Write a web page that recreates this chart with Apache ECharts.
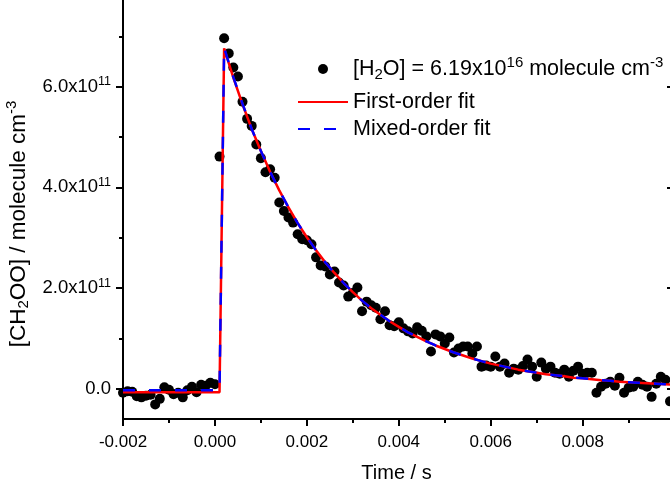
<!DOCTYPE html>
<html>
<head>
<meta charset="utf-8">
<script src="https://cdn.jsdelivr.net/npm/echarts@6/dist/echarts.min.js"></script>
<style>html,body{margin:0;padding:0;background:#fff}#c{width:670px;height:484px}</style>
</head>
<body>
<div id="c"></div>
<script>
// ---- data (concentration in units of 1e11 molecule cm^-3, time in s) ----
const dataTimes = [
 -0.0020,-0.0019,-0.0018,-0.0017,-0.0016,-0.0015,-0.0014,-0.0013,-0.0012,-0.0011,
 -0.0010,-0.0009,-0.0008,-0.0007,-0.0006,-0.0005,-0.0004,-0.0003,-0.0002,-0.0001,0.0000,
 0.0001,0.0002,0.0003,0.0004,0.0005,0.0006,0.0007,0.0008,0.0009,0.0010,
 0.0011,0.0012,0.0013,0.0014,0.0015,0.0016,0.0017,0.0018,0.0019,0.0020,
 0.0021,0.0022,0.0023,0.0024,0.0025,0.0026,0.0027,0.0028,0.0029,0.0030,
 0.0031,0.0032,0.0033,0.0034,0.0035,0.0036,0.0037,0.0038,0.0039,0.0040,
 0.0041,0.0042,0.0043,0.0044,0.0045,0.0046,0.0047,0.0048,0.0049,0.0050,
 0.0051,0.0052,0.0053,0.0054,0.0055,0.0056,0.0057,0.0058,0.0059,0.0060,
 0.0061,0.0062,0.0063,0.0064,0.0065,0.0066,0.0067,0.0068,0.0069,0.0070,
 0.0071,0.0072,0.0073,0.0074,0.0075,0.0076,0.0077,0.0078,0.0079,0.0080,
 0.0081,0.0082,0.0083,0.0084,0.0085,0.0086,0.0087,0.0088,0.0089,0.0090,
 0.0091,0.0092,0.0093,0.0094,0.0095,0.0096,0.0097,0.0098,0.0099
];
const dataValues = [
 -0.08,-0.05,-0.06,-0.15,-0.17,-0.14,-0.12,-0.31,-0.20,0.03,
 -0.02,-0.11,-0.08,-0.17,-0.03,0.04,-0.07,0.08,0.06,0.12,0.09,
 4.61,6.96,6.66,6.38,6.20,5.70,5.36,5.22,4.85,4.58,
 4.30,4.36,4.19,3.70,3.53,3.40,3.30,3.07,2.97,2.95,
 2.87,2.61,2.45,2.43,2.27,2.33,2.11,2.05,1.83,1.90,
 2.01,1.54,1.73,1.66,1.61,1.38,1.54,1.26,1.24,1.32,
 1.20,1.14,1.10,1.22,1.15,1.04,0.74,1.08,1.04,0.90,
 1.02,0.72,0.80,0.84,0.84,0.70,0.84,0.44,0.46,0.44,
 0.64,0.44,0.50,0.32,0.40,0.38,0.45,0.58,0.44,0.24,
 0.52,0.40,0.44,0.32,0.30,0.38,0.24,0.36,0.44,0.30,
 0.32,0.32,-0.08,0.04,0.10,0.14,0.06,0.22,-0.08,0.02,
 0.04,0.14,0.08,0.04,-0.16,0.10,0.24,0.18,-0.25
];
const fitTimes = [
 -0.0020,0.0001,0.0002,0.0004,0.0006,0.0008,0.0010,0.0012,0.0014,0.0016,0.0018,0.0020,
 0.0022,0.0024,0.0026,0.0028,0.0030,0.0032,0.0034,0.0036,0.0038,0.0040,
 0.0042,0.0044,0.0046,0.0048,0.0050,0.0052,0.0054,0.0056,0.0058,0.0060,
 0.0062,0.0064,0.0066,0.0068,0.0070,0.0072,0.0074,0.0076,0.0078,0.0080,
 0.0082,0.0084,0.0086,0.0088,0.0090,0.0092,0.0094,0.0096,0.0098,0.0100
];
const firstOrderFit = [
 -0.07,-0.07,6.76,6.18,5.65,5.16,4.72,4.31,3.94,3.60,3.29,3.01,
 2.75,2.51,2.30,2.10,1.92,1.75,1.60,1.47,1.34,1.23,
 1.12,1.03,0.94,0.86,0.79,0.72,0.66,0.60,0.55,0.50,
 0.46,0.42,0.38,0.35,0.32,0.29,0.27,0.25,0.22,0.21,
 0.19,0.17,0.16,0.14,0.13,0.12,0.11,0.10,0.09,0.085
];
const mixedOrderFit = [
 -0.03,-0.03,6.77,6.19,5.66,5.16,4.72,4.31,3.94,3.60,3.29,3.01,
 2.75,2.51,2.30,2.10,1.92,1.75,1.60,1.47,1.34,1.23,
 1.12,1.03,0.94,0.86,0.79,0.72,0.66,0.60,0.55,0.50,
 0.46,0.42,0.38,0.35,0.32,0.29,0.27,0.25,0.22,0.21,
 0.19,0.17,0.16,0.14,0.13,0.12,0.11,0.10,0.09,0.085
];
const xMajorTicks = [-0.002,0.000,0.002,0.004,0.006,0.008];
const xMinorTicks = [-0.001,0.001,0.003,0.005,0.007,0.009];
const yMajorTicks = [0,2,4,6];
const yMinorTicks = [1,3,5,7];

const FONT = 'Liberation Sans, Arial, sans-serif';
const zip = (a,b) => a.map((t,i)=>[t,b[i]]);

const chart = echarts.init(document.getElementById('c'), null, {renderer:'canvas'});
const mkSub = fs => ({fontSize: Math.round(fs*0.68), fontFamily: FONT, color:'#000', padding:[Math.round(fs*0.5),0,0,0]});
const mkSup = fs => ({fontSize: Math.round(fs*0.68), fontFamily: FONT, color:'#000', padding:[0,0,Math.round(fs*0.62),0]});
const baseAxis = {type:'value', min:-0.002, max:0.0099, splitLine:{show:false}};
const yBase = {type:'value', min:-0.6, max:7.72, splitLine:{show:false}};
const LEG = 21.5;
const YT = 22.5;
chart.setOption({
  animation:false,
  backgroundColor:'#fff',
  grid:{left:123, right:0, top:0, bottom:65, containLabel:false, outerBoundsMode:'none'},
  xAxis:[
    Object.assign({}, baseAxis, {
      position:'bottom',
      axisLine:{show:true, onZero:false, lineStyle:{color:'#000', width:2}},
      axisTick:{show:true, customValues:xMajorTicks, length:7, lineStyle:{color:'#000', width:2}},
      axisLabel:{show:true, customValues:xMajorTicks, margin:15, fontSize:17, fontFamily:FONT, color:'#000',
        formatter: v => v.toFixed(3)},
      name:'Time / s', nameLocation:'middle', nameGap:44,
      nameTextStyle:{fontSize:20, fontFamily:FONT, color:'#000'}
    }),
    Object.assign({}, baseAxis, {
      position:'bottom',
      axisLine:{show:false, onZero:false},
      axisTick:{show:true, customValues:xMinorTicks, length:4, lineStyle:{color:'#000', width:2}},
      axisLabel:{show:false}
    })
  ],
  yAxis:[
    Object.assign({}, yBase, {
      position:'left',
      axisLine:{show:true, onZero:false, lineStyle:{color:'#000', width:2}},
      axisTick:{show:true, customValues:yMajorTicks, length:7, lineStyle:{color:'#000', width:2}},
      axisLabel:{show:true, customValues:yMajorTicks, margin:12, fontSize:18.5, fontFamily:FONT, color:'#000',
        formatter: v => v === 0 ? '0.0' : '{n|' + v.toFixed(1) + 'x10}{s|11}',
        rich:{n:{fontSize:18.5, fontFamily:FONT, color:'#000'}, s:{fontSize:12.5, fontFamily:FONT, color:'#000', padding:[0,0,10,0]}}},
      name:'[CH{sub|2}OO] / molecule cm{sup|-3}', nameLocation:'middle', nameGap:77, nameRotate:90,
      nameTextStyle:{fontSize:YT, fontFamily:FONT, color:'#000', padding:[0,29,0,0], rich:{sub:mkSub(YT), sup:mkSup(YT)}}
    }),
    Object.assign({}, yBase, {
      position:'left',
      axisLine:{show:false, onZero:false},
      axisTick:{show:true, customValues:yMinorTicks, length:4, lineStyle:{color:'#000', width:2}},
      axisLabel:{show:false}
    }),
    Object.assign({}, yBase, {
      position:'right',
      axisLine:{show:false, onZero:false},
      axisTick:{show:true, inside:true, customValues:yMajorTicks, length:3, lineStyle:{color:'#000', width:2}},
      axisLabel:{show:false}
    })
  ],
  legend:[
    {data:['data'], left:313, top:50, itemWidth:50, itemHeight:10, selectedMode:false,
      formatter: () => '[H{sub|2}O] = 6.19x10{sup|16} molecule cm{sup|-3}',
      textStyle:{fontSize:LEG, fontFamily:FONT, color:'#000', rich:{sub:mkSub(LEG), sup:mkSup(LEG)}}},
    {data:['first'], left:292, top:86, itemWidth:50, itemHeight:10, selectedMode:false,
      itemStyle:{opacity:0},
      formatter: () => 'First-order fit',
      textStyle:{fontSize:LEG, fontFamily:FONT, color:'#000'}},
    {data:['mixed'], left:292, top:113, itemWidth:50, itemHeight:10, selectedMode:false,
      itemStyle:{opacity:0},
      formatter: () => 'Mixed-order fit',
      textStyle:{fontSize:LEG, fontFamily:FONT, color:'#000'}}
  ],
  series:[
    {name:'data', type:'scatter', data:zip(dataTimes, dataValues), symbol:'circle', symbolSize:10,
      itemStyle:{color:'#000', opacity:1}, xAxisIndex:0, yAxisIndex:0, z:2},
    {name:'first', type:'line', data:zip(fitTimes, firstOrderFit), showSymbol:false, symbol:'none',
      lineStyle:{color:'#ff0000', width:2.5}, itemStyle:{color:'#ff0000'}, xAxisIndex:0, yAxisIndex:0, z:3},
    {name:'mixed', type:'line', data:zip(fitTimes, mixedOrderFit), showSymbol:false, symbol:'none',
      lineStyle:{color:'#0000ff', width:2.5, type:[12,14]}, itemStyle:{color:'#0000ff'}, xAxisIndex:0, yAxisIndex:0, z:4}
  ]
});
</script>
</body>
</html>
